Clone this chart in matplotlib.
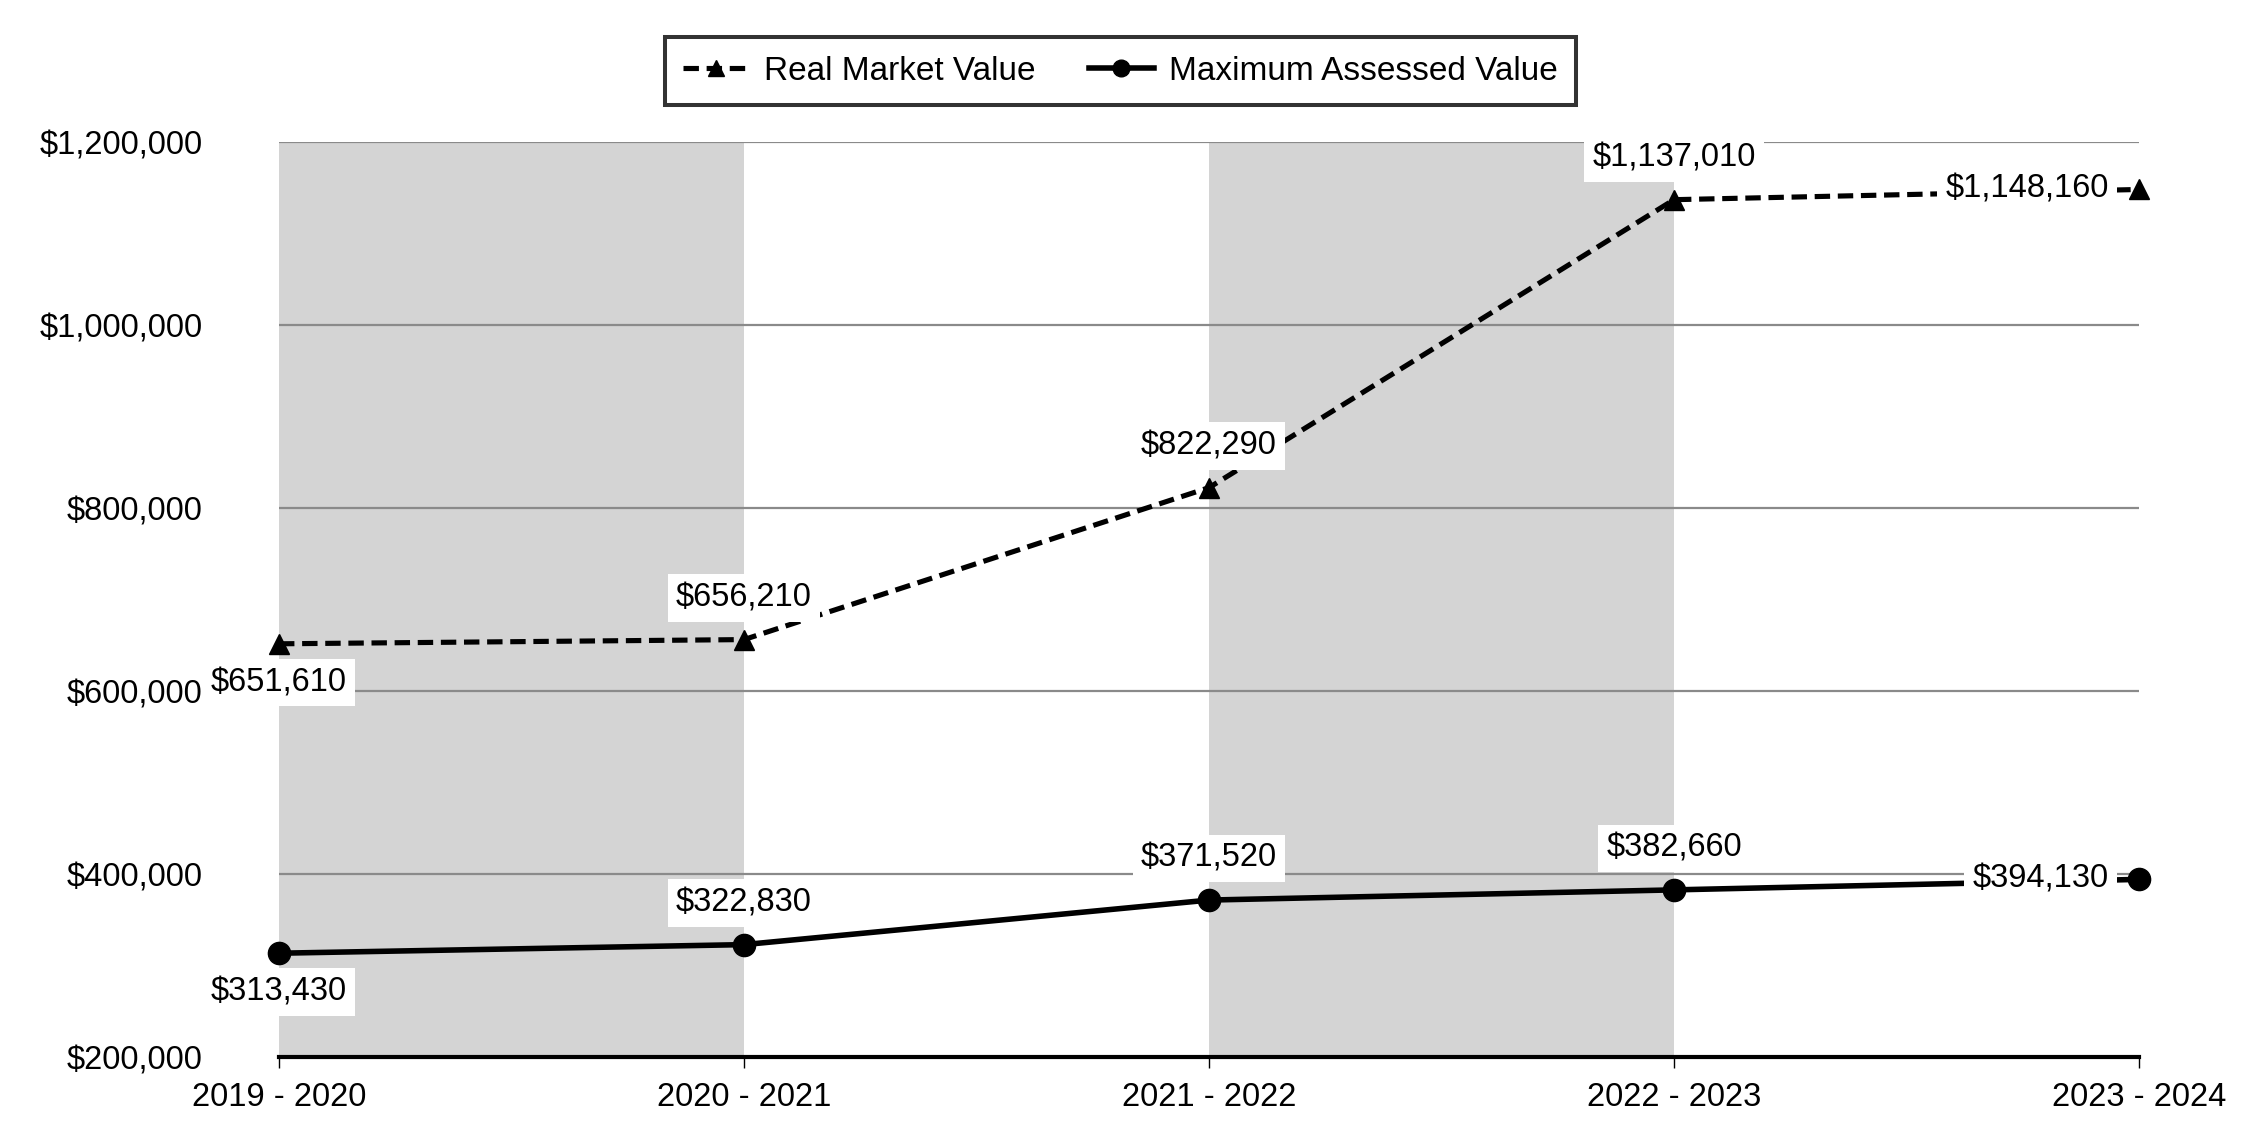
"""
Real market value vs maximum assessed value, 2019 - 2024.
"""

import matplotlib
matplotlib.use("Agg")
import matplotlib.pyplot as plt
from matplotlib.ticker import FuncFormatter

plt.rcParams['font.family'] = ['Liberation Sans', 'DejaVu Sans']

# data
years = ['2019 - 2020', '2020 - 2021', '2021 - 2022', '2022 - 2023', '2023 - 2024']
real_market = [651610, 656210, 822290, 1137010, 1148160]
max_assessed = [313430, 322830, 371520, 382660, 394130]
# where each data label sits relative to its point
rmv_label_pos = ['below', 'above', 'above', 'above', 'left']
mav_label_pos = ['below', 'above', 'above', 'above', 'left']
y_ticks = [200000, 400000, 600000, 800000, 1000000, 1200000]

FS = 23.5


def money(v, _=None):
    return '${:,.0f}'.format(v)


def add_labels(ax, xs, ys, positions):
    for x, y, p in zip(xs, ys, positions):
        if p == 'above':
            off, ha = (0, 30), 'center'
        elif p == 'below':
            off, ha = (0, -28), 'center'
        else:
            off, ha = (-22, 0), 'right'
        ax.annotate(money(y), (x, y), xytext=off, textcoords='offset points',
                    ha=ha, va='center', fontsize=FS, zorder=6,
                    bbox=dict(boxstyle='square,pad=0.25', fc='white', ec='none'))


def plot_chart():
    fig = plt.figure(figsize=(22.5, 11.4), dpi=100)
    ax = fig.add_axes([0.124, 0.0728, 0.8267, 0.8026])
    xs = list(range(len(years)))

    # alternating shaded bands
    for i in range(0, len(years) - 1, 2):
        ax.axvspan(xs[i], xs[i + 1], color='#d4d4d4', lw=0, zorder=0)

    ax.set_ylim(y_ticks[0], y_ticks[-1])
    ax.set_xlim(xs[0], xs[-1])
    ax.set_yticks(y_ticks)
    ax.yaxis.set_major_formatter(FuncFormatter(money))
    ax.set_xticks(xs)
    ax.set_xticklabels(years)
    ax.grid(axis='y', color='#8a8a8a', lw=1.6, zorder=1)
    ax.set_axisbelow(False)

    ax.plot(xs, real_market, color='black', lw=3.7, dashes=(3.0, 1.5),
            marker='^', ms=15, label='Real Market Value', zorder=4, clip_on=False)
    ax.plot(xs, max_assessed, color='black', lw=4,
            marker='o', ms=16, label='Maximum Assessed Value', zorder=4, clip_on=False)

    add_labels(ax, xs, real_market, rmv_label_pos)
    add_labels(ax, xs, max_assessed, mav_label_pos)

    for s in ['top', 'right', 'left']:
        ax.spines[s].set_visible(False)
    ax.spines['bottom'].set_linewidth(3)
    ax.spines['bottom'].set_zorder(5)
    ax.tick_params(axis='y', length=0, pad=55, labelsize=FS)
    ax.tick_params(axis='x', length=8, width=1, pad=10, labelsize=FS)

    leg = fig.legend(loc='center', bbox_to_anchor=(0.498, 0.9377), ncol=2,
                     fontsize=24, frameon=True, fancybox=False, edgecolor='black',
                     handlelength=1.96, columnspacing=1.6, handletextpad=0.45,
                     borderpad=0.55, markerscale=0.75)
    leg.get_frame().set_linewidth(2.9)

    fig.savefig('out.png', dpi=100)


def main():
    plot_chart()


if __name__ == '__main__':
    main()
